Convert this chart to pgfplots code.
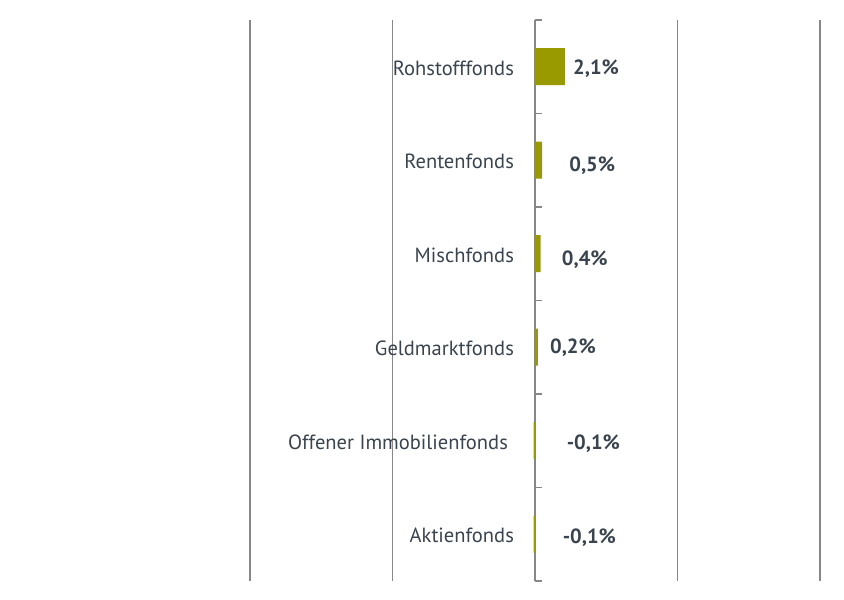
\documentclass[border=0pt]{standalone}
\usepackage{pgfplots}
\usepackage{pgfplotstable}
\pgfplotsset{compat=1.18}
\usepackage{fontspec}
\setmainfont{PT Sans}
\definecolor{barc}{RGB}{153,153,0}
\definecolor{txt}{RGB}{58,68,78}
\definecolor{gridc}{RGB}{135,135,135}
\pgfplotstableread{
y x lab dx dy
0 -0.1 {-0,1\%} 21.75 -2.25
1 -0.1 {-0,1\%} 24.75 -2.25
2 0.2 {0,2\%} 9 0
3 0.4 {0,4\%} 15.75 -4.5
4 0.5 {0,5\%} 20.25 -3.75
5 2.1 {2,1\%} 6 -1.5
}\data
\begin{document}
\begin{tikzpicture}
\path (-187.5pt,-14.25pt) rectangle (445.5pt,435.75pt);
\begin{axis}[
  at={(0,0)}, anchor=south west,
  scale only axis, width=427.5pt, height=420.75pt,
  xmin=-20, xmax=20, ymin=-0.5, ymax=5.5,
  axis x line=bottom, x axis line style={draw=none},
  axis y line=middle, y axis line style={-, draw=gridc, line width=0.9pt},
  xtick={-20,-10,0,10,20}, xticklabels={}, xtick style={draw=none},
  xmajorgrids, grid style={gridc, line width=0.9pt},
  ytick={0,...,5}, ytick style={draw=none},
  yticklabels={Aktienfonds,{Offener Immobilienfonds\rule{4.5pt}{0pt}},Geldmarktfonds,Mischfonds,Rentenfonds,Rohstofffonds},
  yticklabel style={anchor=east, inner sep=0pt, xshift=-13.5pt, yshift=-1pt, font=\fontsize{15.4}{18}\selectfont, text=txt},
  clip=false,
]
\addplot[xbar, fill=barc, draw=none, bar width=27.75pt,
  visualization depends on={\thisrow{dx} \as \dx},
  visualization depends on={\thisrow{dy} \as \dy},
  nodes near coords, point meta=explicit symbolic,
  every node near coord/.append style={anchor=west, inner sep=0pt, xshift=\dx pt, yshift=\dy pt, font=\bfseries\fontsize{15.4}{18}\selectfont, text=txt}
] table[x=x, y=y, meta=lab] \data;
\pgfplotsinvokeforeach{-0.5,0.5,1.5,2.5,3.5,4.5,5.5}{
  \draw[gridc, line width=0.9pt] (axis cs:0,#1) -- ++(5.25pt,0pt);
}
\end{axis}
\end{tikzpicture}
\end{document}
